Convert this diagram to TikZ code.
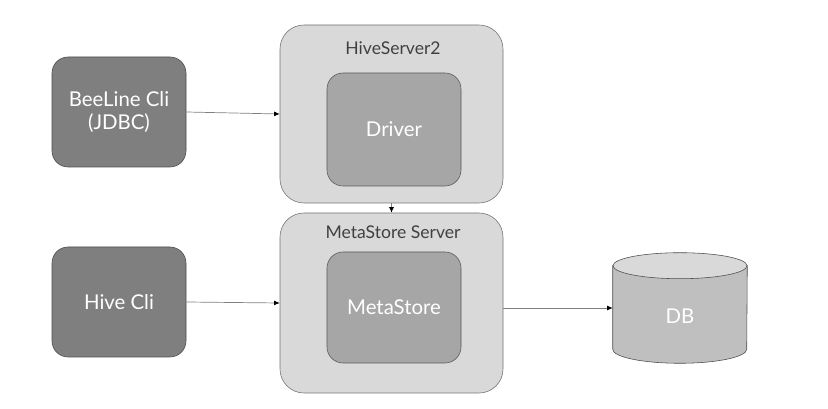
\documentclass[tikz,border=0pt]{standalone}
\usepackage{fontspec}
\setmainfont{Lato}
\usetikzlibrary{arrows.meta,positioning}
\definecolor{clidark}{HTML}{7F7F7F}
\definecolor{srvlight}{HTML}{D9D9D9}
\definecolor{innermid}{HTML}{A6A6A6}
\definecolor{dbbody}{HTML}{BFBFBF}
\definecolor{dbtop}{HTML}{D9D9D9}
\definecolor{labelgray}{HTML}{404040}
\begin{document}
\begin{tikzpicture}[
    clibox/.style={draw=black!70,fill=clidark,rounded corners=0.4cm,minimum width=3.35cm,minimum height=2.75cm,text=white,align=center,font=\fontsize{14.5}{17}\selectfont},
    srvbox/.style={draw=black!55,fill=srvlight,rounded corners=0.6cm,minimum width=5.575cm},
    innerbox/.style={draw=black!65,fill=innermid,rounded corners=0.4cm,minimum width=3.35cm,text=white,font=\fontsize{14.5}{17}\selectfont},
    srvlabel/.style={text=labelgray,font=\fontsize{12.5}{14}\selectfont},
    link/.style={draw=black!50,line width=0.5pt,-{Latex[length=4pt,width=3.5pt,black]}}
  ]
        \useasboundingbox (0,0) rectangle (20.7,10.225);
        % clients
        \node[clibox] (beeline) at (2.975,7.425) {BeeLine Cli\\(JDBC)};
        \node[clibox] (hivecli) at (2.975,2.675) {Hive Cli};
        % HiveServer2
        \node[srvbox,minimum height=4.45cm] (hs2) at (9.7875,7.375) {};
        \node[srvlabel] (hs2label) at (9.825,9.025) {HiveServer2};
        \node[innerbox,minimum height=2.825cm] (driver) at (9.85,6.9875) {Driver};
        % MetaStore server
        \node[srvbox,minimum height=4.5cm] (mss) at (9.7875,2.65) {};
        \node[srvlabel] (msslabel) at (9.825,4.425) {MetaStore Server};
        \node[innerbox,minimum height=2.775cm] (metastore) at (9.85,2.5375) {MetaStore};
        % database
        \node[minimum width=3.35cm,minimum height=2.75cm,inner sep=0pt] (db) at (17.0,2.525) {};
        \draw[black!70,fill=dbbody] ([yshift=-0.325cm]db.north west) -- ([yshift=0.35cm]db.south west)
            arc[start angle=180,end angle=360,x radius=1.675cm,y radius=0.35cm] -- ([yshift=-0.325cm]db.north east) -- cycle;
        \draw[black!70,fill=dbtop] ([yshift=-0.325cm]db.north) ellipse [x radius=1.675cm,y radius=0.325cm];
        \node[text=white,font=\fontsize{14.5}{17}\selectfont] (dbtext) at ([yshift=-0.2cm]db.center) {DB};
        % connectors
        \draw[link] (beeline.east) -- (hs2.west);
        \draw[link] (hivecli.east) -- (mss.west);
        \draw[link] (hs2.south) -- (mss.north);
        \draw[link] (db.west -| mss.east) -- (db.west);
\end{tikzpicture}
\end{document}
